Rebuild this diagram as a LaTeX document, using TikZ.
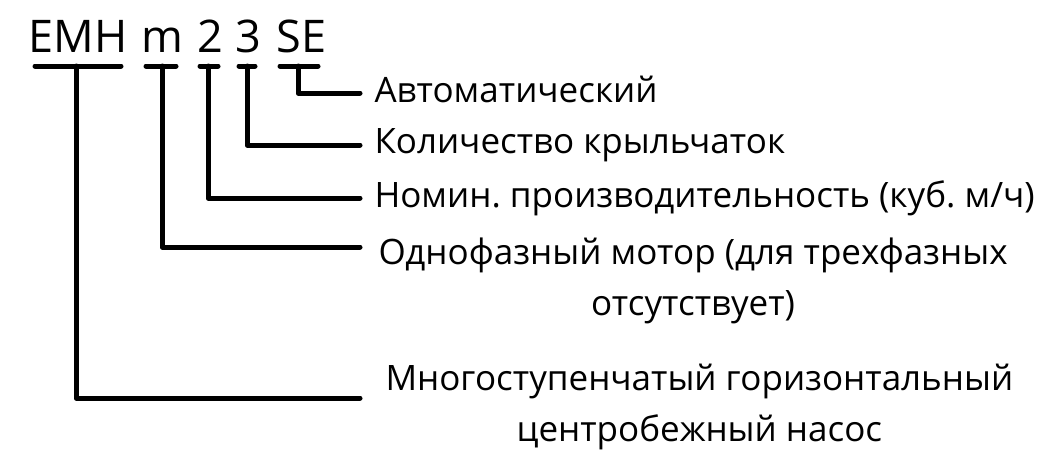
\documentclass[tikz,border=0pt]{standalone}
\usepackage{fontspec}
\setmainfont{Open Sans}
\usetikzlibrary{positioning}
\frenchspacing
\begin{document}
\begin{tikzpicture}[x=1pt,y=-1pt,line width=5pt,line cap=round,line join=round,
  code/.style={font=\fontsize{45}{54}\selectfont,anchor=base west,inner sep=0pt},
  lbl/.style={font=\fontsize{35}{51}\selectfont,anchor=base west,inner sep=0pt}]
\useasboundingbox (0,0) rectangle (1049,466);
% model code
\node[code] (EMH) at (26,52) {EMH};
\node[code] (m) at (139,52) {m};
\node[code] (two) at (195,52) {2};
\node[code] (three) at (233,52) {3};
\node[code] (SE) at (274,52) {SE};
% underlines
\coordinate (EMHa) at (35,66); \coordinate (EMHb) at (121,66); \coordinate (EMHd) at (76,66);
\coordinate (ma) at (146,66); \coordinate (mb) at (176,66); \coordinate (md) at (162,66);
\coordinate (twoa) at (200,66); \coordinate (twob) at (218,66); \coordinate (twod) at (208,66);
\coordinate (threea) at (239,66); \coordinate (threeb) at (255,66); \coordinate (threed) at (247,66);
\coordinate (SEa) at (280,66); \coordinate (SEb) at (318,66); \coordinate (SEd) at (298,66);
\draw (EMHa) -- (EMHb);
\draw (ma) -- (mb);
\draw (twoa) -- (twob);
\draw (threea) -- (threeb);
\draw (SEa) -- (SEb);
% leader ends
\coordinate (tipSE) at (360,93);
\coordinate (tipthree) at (360,145);
\coordinate (tiptwo) at (360,198);
\coordinate (tipm) at (360,247);
\coordinate (tipEMH) at (360,398);
\draw (SEd) |- (tipSE);
\draw (threed) |- (tipthree);
\draw (twod) |- (tiptwo);
\draw (md) |- (tipm);
\draw (EMHd) |- (tipEMH);
% meanings
\node[lbl] (auto) at (372,102) {Автоматический};
\node[lbl] (wheels) at (372,153) {Количество крыльчаток};
\node[lbl] (flow) at (372,207) {Номин. производительность (куб. м/ч)};
\node[lbl,align=center,anchor=west] (motor) at (376,281) {Однофазный мотор (для трехфазных\\отсутствует)};
\node[lbl,align=center,anchor=west] (pump) at (383,407) {Многоступенчатый горизонтальный\\центробежный насос};
\end{tikzpicture}
\end{document}
